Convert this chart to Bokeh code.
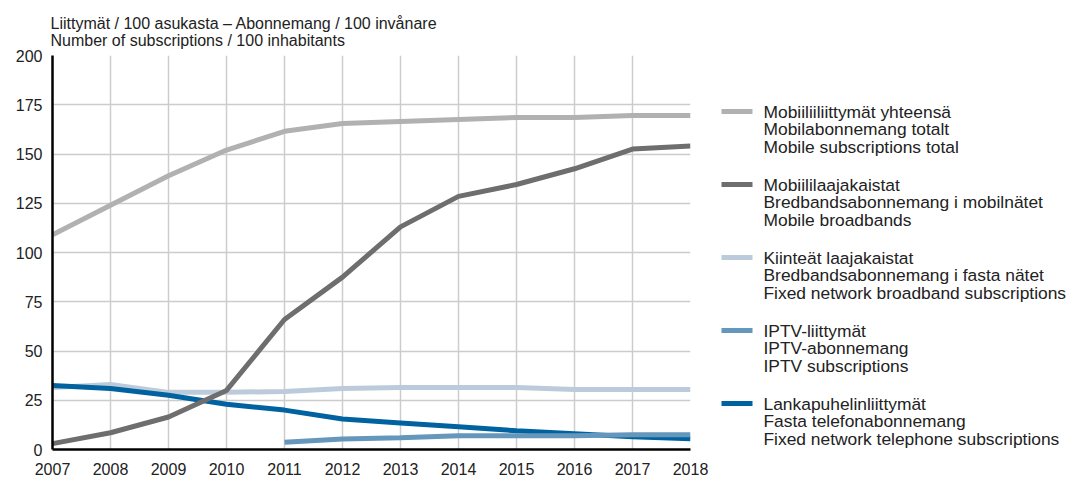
from bokeh.plotting import figure
from bokeh.layouts import row
from bokeh.models import Range1d, FixedTicker, Title, ColumnDataSource
from bokeh.core.properties import value
from bokeh.embed import file_html
from bokeh.resources import INLINE

years = list(range(2007, 2019))
mobile_total = [109, 124, 139, 152, 161.5, 165.5, 166.5, 167.5, 168.5, 168.5, 169.5, 169.5]
mobile_bb = [3, 8.5, 16.5, 30, 66, 87.5, 113, 128.5, 134.5, 142.5, 152.5, 154]
fixed_bb = [31.5, 33, 29, 29, 29.5, 31, 31.5, 31.5, 31.5, 30.5, 30.5, 30.5]
iptv_years = list(range(2011, 2019))
iptv = [3.7, 5.3, 6, 7, 7, 7, 7.5, 7.5]
landline = [32.5, 31, 27.5, 23, 20, 15.5, 13.5, 11.5, 9.5, 8, 6.5, 5.5]

labels = [
    "Mobiiliiliittymät yhteensä\nMobilabonnemang totalt\nMobile subscriptions total",
    "Mobiililaajakaistat\nBredbandsabonnemang i mobilnätet\nMobile broadbands",
    "Kiinteät laajakaistat\nBredbandsabonnemang i fasta nätet\nFixed network broadband subscriptions",
    "IPTV-liittymät\nIPTV-abonnemang\nIPTV subscriptions",
    "Lankapuhelinliittymät\nFasta telefonabonnemang\nFixed network telephone subscriptions",
]
colors = ["#b1b1b1", "#6e6e6e", "#bccbdb", "#6497bb", "#0063a0"]
title_lines = "Liittymät / 100 asukasta – Abonnemang / 100 invånare\nNumber of subscriptions / 100 inhabitants"
yticks = [0, 25, 50, 75, 100, 125, 150, 175, 200]

FONT = "Liberation Sans"
TXT = "#222222"
H = 478
TOP, BOT = 55, 29

p = figure(width=710, height=H, output_backend="svg", toolbar_location=None,
           x_range=Range1d(2007, 2018), y_range=Range1d(0, 200),
           min_border_left=52, min_border_right=20, min_border_top=TOP, min_border_bottom=BOT)
p.outline_line_color = None
p.background_fill_color = "white"

t = Title(text=title_lines, align="left", offset=-2, standoff=13,
          text_font=FONT, text_font_size="16px", text_font_style="normal",
          text_color=TXT, text_line_height=1.0)
p.add_layout(t, "above")

for ax in [p.xaxis[0], p.yaxis[0]]:
    ax.major_tick_line_color = None
    ax.minor_tick_line_color = None
    ax.axis_line_color = "black"
    ax.axis_line_width = 2.5
    ax.major_label_text_font = FONT
    ax.major_label_text_font_size = "16px"
    ax.major_label_text_color = TXT
    ax.major_tick_out = 0
    ax.major_tick_in = 0

p.xaxis.ticker = FixedTicker(ticks=years)
p.xaxis.major_label_standoff = 13
p.yaxis.ticker = FixedTicker(ticks=yticks)
p.yaxis.major_label_standoff = 10

p.xgrid.ticker = FixedTicker(ticks=years)
p.ygrid.ticker = FixedTicker(ticks=yticks)
for g in [p.xgrid[0], p.ygrid[0]]:
    g.grid_line_color = "#cccccc"
    g.grid_line_width = 1.5

lw = 5
p.line(years, fixed_bb, line_color=colors[2], line_width=lw)
p.line(years, landline, line_color=colors[4], line_width=lw)
p.line(iptv_years, iptv, line_color=colors[3], line_width=lw)
p.line(years, mobile_bb, line_color=colors[1], line_width=lw)
p.line(years, mobile_total, line_color=colors[0], line_width=lw)

# legend panel: page-pixel coordinates, y downwards (frame aligned with main plot)
LW = 1068 - 710
lg = figure(width=LW, height=H, output_backend="svg", toolbar_location=None,
            x_range=Range1d(0, LW), y_range=Range1d(H - BOT, TOP),
            min_border_left=0, min_border_right=0, min_border_top=TOP, min_border_bottom=BOT,
            x_axis_location=None, y_axis_location=None)
lg.outline_line_color = None
lg.xgrid.visible = False
lg.ygrid.visible = False

step = 73
first = 111
line_gap = 17.6
centers = [first + i * step for i in range(len(labels))]
lg.segment(x0=[11] * len(labels), y0=centers, x1=[42] * len(labels), y1=centers,
           line_color=colors, line_width=5, line_cap="butt")

tx, ty, tt = [], [], []
for c, lab in zip(centers, labels):
    for j, ln in enumerate(lab.split("\n")):
        tx.append(53)
        ty.append(c + j * line_gap)
        tt.append(ln)
lg.text(x=tx, y=ty, text=tt, text_font=value(FONT),
        text_font_size="17.4px", text_color=TXT, text_baseline="middle")

open("out.html", "w").write(file_html(row(p, lg), INLINE))
